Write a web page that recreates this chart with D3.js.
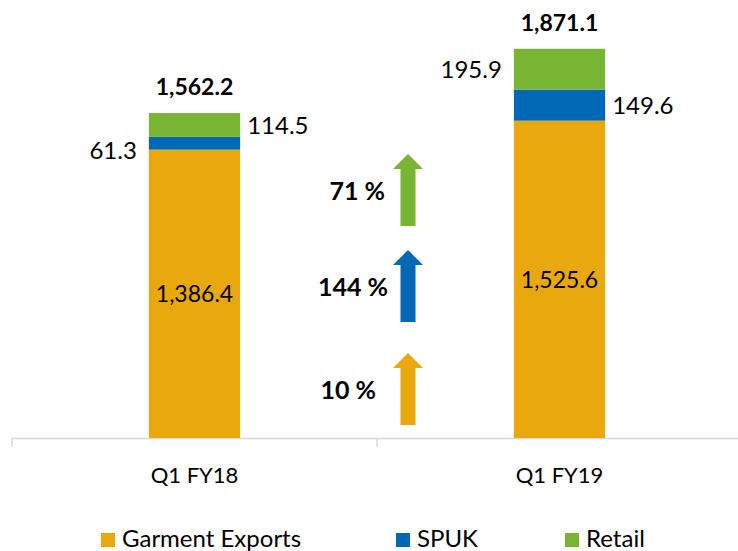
<!DOCTYPE html>
<html>
<head>
<meta charset="utf-8">
<script src="https://cdn.jsdelivr.net/npm/d3@7"></script>
<style>
  body { margin: 0; background: #fff; }
  svg { display: block; font-family: Lato, "Open Sans", sans-serif; }
</style>
</head>
<body>
<svg id="chart" width="738" height="551"></svg>
<script>
// data
const categories = ["Q1 FY18", "Q1 FY19"];
const garment = [1386.4, 1525.6];
const spuk = [61.3, 149.6];
const retail = [114.5, 195.9];
const totals = [1562.2, 1871.1];
const seriesNames = ["Garment Exports", "SPUK", "Retail"];
const growthLabels = ["10 %", "144 %", "71 %"];

const colors = ["#E8A80E", "#0068B5", "#77B533"];

const width = 738;
const height = 551;
const svg = d3.select("#chart");

const x = d3.scaleBand()
  .domain(categories)
  .range([12, 742])
  .paddingInner(0.75)
  .paddingOuter(0.375);

const y = d3.scaleLinear()
  .domain([0, 2000])
  .range([438, 22]);

const rows = categories.map((c, i) => ({
  cat: c, garment: garment[i], spuk: spuk[i], retail: retail[i], total: totals[i]
}));
const keys = ["garment", "spuk", "retail"];
const stacked = d3.stack().keys(keys)(rows);

// axis line + ticks at band edges
const step = x.step();
const axis = svg.append("g");
axis.append("line")
  .attr("x1", x.range()[0]).attr("x2", x.range()[1])
  .attr("y1", y(0) + 0.5).attr("y2", y(0) + 0.5)
  .attr("stroke", "#d9d9d9").attr("stroke-width", 1.5);
d3.range(categories.length + 1).forEach(i => {
  const tx = x.range()[0] + i * step;
  axis.append("line")
    .attr("x1", tx).attr("x2", tx)
    .attr("y1", y(0)).attr("y2", y(0) + 9)
    .attr("stroke", "#d9d9d9").attr("stroke-width", 1.5);
});

// bars
svg.append("g").selectAll("g")
  .data(stacked)
  .join("g")
  .attr("fill", (d, i) => colors[i])
  .selectAll("rect")
  .data(d => d)
  .join("rect")
  .attr("x", d => x(d.data.cat))
  .attr("width", x.bandwidth())
  .attr("y", d => y(d[1]))
  .attr("height", d => y(d[0]) - y(d[1]));

const fmt = d3.format(",.1f");
const labels = svg.append("g").attr("fill", "#000");

// garment labels inside bar
stacked[0].forEach(d => {
  labels.append("text")
    .attr("x", x(d.data.cat) + x.bandwidth() / 2)
    .attr("y", (y(d[0]) + y(d[1])) / 2)
    .attr("dy", "0.36em")
    .attr("text-anchor", "middle")
    .attr("font-size", 23)
    .text(fmt(d.data.garment));
});

// side labels: spuk and retail alternate sides
const sideOf = { spuk: ["left", "right"], retail: ["right", "left"] };
const nudge = { spuk: [7, 0], retail: [0, 0] };
[1, 2].forEach(k => {
  const key = keys[k];
  stacked[k].forEach((d, i) => {
    const left = sideOf[key][i] === "left";
    labels.append("text")
      .attr("x", left ? x(d.data.cat) - 12 : x(d.data.cat) + x.bandwidth() + 7)
      .attr("y", (y(d[0]) + y(d[1])) / 2 + nudge[key][i])
      .attr("dy", "0.36em")
      .attr("text-anchor", left ? "end" : "start")
      .attr("font-size", 24)
      .text(fmt(d.data[key]));
  });
});

// totals on top
rows.forEach(d => {
  labels.append("text")
    .attr("x", x(d.cat) + x.bandwidth() / 2)
    .attr("y", y(d.total) - 18)
    .attr("text-anchor", "middle")
    .attr("font-size", 23)
    .attr("font-weight", "bold")
    .text(fmt(d.total));
});

// category labels
svg.append("g").selectAll("text")
  .data(categories)
  .join("text")
  .attr("x", d => x(d) + x.bandwidth() / 2)
  .attr("y", 483)
  .attr("text-anchor", "middle")
  .attr("font-size", 22)
  .text(d => d);

// growth arrows between the bars
const arrowX = 408;
const arrowTops = [353, 250, 154];
const arrowLen = 72, shaftW = 15, headW = 30, headH = 15;
const arrows = svg.append("g");
growthLabels.forEach((g, i) => {
  const t = arrowTops[i];
  const pts = [
    [arrowX, t],
    [arrowX + headW / 2, t + headH],
    [arrowX + shaftW / 2, t + headH],
    [arrowX + shaftW / 2, t + arrowLen],
    [arrowX - shaftW / 2, t + arrowLen],
    [arrowX - shaftW / 2, t + headH],
    [arrowX - headW / 2, t + headH]
  ];
  arrows.append("path")
    .attr("d", d3.line()(pts) + "Z")
    .attr("fill", colors[i]);
  arrows.append("text")
    .attr("x", [376, 388, 385][i])
    .attr("y", t + 46)
    .attr("text-anchor", "end")
    .attr("font-size", 25)
    .attr("font-weight", "bold")
    .text(g);
});

// legend
const legendX = [101, 396, 565];
const legend = svg.append("g");
seriesNames.forEach((n, i) => {
  legend.append("rect")
    .attr("x", legendX[i]).attr("y", 533)
    .attr("width", 14).attr("height", 14)
    .attr("fill", colors[i]);
  legend.append("text")
    .attr("x", legendX[i] + 21).attr("y", 547)
    .attr("font-size", 24)
    .text(n);
});
</script>
</body>
</html>
